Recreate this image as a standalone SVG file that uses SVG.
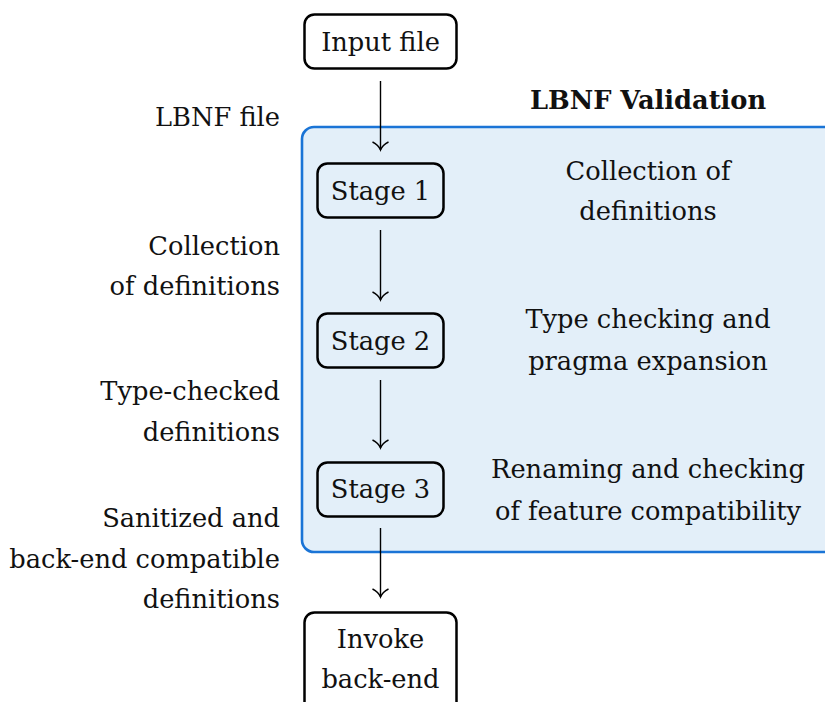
<svg xmlns="http://www.w3.org/2000/svg" width="825" height="702" viewBox="0 0 825 702">
<defs>
<style>
text{font-family:"DejaVu Serif",serif;font-size:25.7px;fill:#111}
.r{text-anchor:end}
.c{text-anchor:middle}
.b{font-weight:bold}
.node{fill:none;stroke:#000;stroke-width:2.5}
.stage{fill:#e3eff9;stroke:#000;stroke-width:2.5}
.edge{fill:none;stroke:#000;stroke-width:1.4;marker-end:url(#arr)}
</style>
<marker id="arr" viewBox="0 0 20 20" refX="18" refY="10" markerWidth="20" markerHeight="20" markerUnits="userSpaceOnUse" orient="auto">
<path d="M10 2 Q13 8 18 10 Q13 12 10 18" fill="none" stroke="#000" stroke-width="1.4"/>
</marker>
</defs>
<rect width="825" height="702" fill="#fff"/>
<g id="validation">
<rect x="302" y="127" width="540" height="425" rx="12" fill="#e3eff9" stroke="#1a74d6" stroke-width="2.6"/>
<text class="c b" x="648" y="109">LBNF Validation</text>
<text class="c" x="648" y="180">Collection of</text>
<text class="c" x="648" y="220">definitions</text>
<text class="c" x="648" y="328">Type checking and</text>
<text class="c" x="648" y="370">pragma expansion</text>
<text class="c" x="648" y="478">Renaming and checking</text>
<text class="c" x="648" y="520">of feature compatibility</text>
</g>
<g id="labels">
<text class="r" x="280" y="126">LBNF file</text>
<text class="r" x="280" y="255">Collection</text>
<text class="r" x="280" y="295">of definitions</text>
<text class="r" x="280" y="400">Type-checked</text>
<text class="r" x="280" y="441">definitions</text>
<text class="r" x="280" y="527">Sanitized and</text>
<text class="r" x="280" y="568">back-end compatible</text>
<text class="r" x="280" y="608">definitions</text>
</g>
<g id="connectors">
<path class="edge" d="M380.5 81 V150"/>
<path class="edge" d="M380.5 230 V300"/>
<path class="edge" d="M380.5 380 V448"/>
<path class="edge" d="M380.5 528 V597"/>
</g>
<g id="input">
<rect class="node" x="304.5" y="14.5" width="152" height="54" rx="10" fill="#fff"/>
<text class="c" x="380.5" y="51">Input file</text>
</g>
<g id="stage1">
<rect class="stage" x="317.5" y="163.5" width="126" height="54" rx="10"/>
<text class="c" x="380.5" y="200">Stage 1</text>
</g>
<g id="stage2">
<rect class="stage" x="317.5" y="313.5" width="126" height="54" rx="10"/>
<text class="c" x="380.5" y="350">Stage 2</text>
</g>
<g id="stage3">
<rect class="stage" x="317.5" y="462.5" width="126" height="54" rx="10"/>
<text class="c" x="380.5" y="498">Stage 3</text>
</g>
<g id="invoke">
<rect class="node" x="304.5" y="612.5" width="152" height="100" rx="10"/>
<text class="c" x="380.5" y="648">Invoke</text>
<text class="c" x="380.5" y="688">back-end</text>
</g>
</svg>
